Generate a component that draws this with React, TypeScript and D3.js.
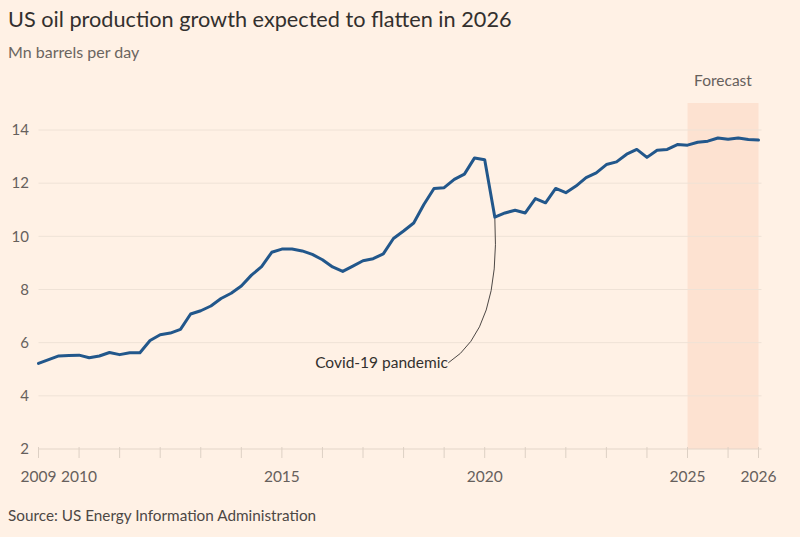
import React from "react";
import * as d3 from "d3";

const startYear = 2009;
const endYear = 2026;
const forecastStart = 2025;
const yTicks = [2, 4, 6, 8, 10, 12, 14];
const xLabelYears = [2009, 2010, 2015, 2020, 2025];
const lastLabel = "2026";

// Quarterly US crude oil production, Mn barrels per day, 2009 Q1 – 2026 Q4
const production = [
  5.22, 5.36, 5.5, 5.52,
  5.53, 5.43, 5.5, 5.63,
  5.55, 5.62, 5.62, 6.08,
  6.3, 6.36, 6.5, 7.08,
  7.2, 7.38, 7.66, 7.86,
  8.13, 8.54, 8.86, 9.4,
  9.52, 9.52, 9.45, 9.32,
  9.12, 8.85, 8.68, 8.88,
  9.08, 9.16, 9.34, 9.92,
  10.2, 10.5, 11.2, 11.8,
  11.83, 12.14, 12.34, 12.95,
  12.88, 10.72, 10.88, 10.98,
  10.88, 11.42, 11.26, 11.8,
  11.64, 11.89, 12.21, 12.39,
  12.7, 12.8, 13.09, 13.27,
  12.97, 13.24, 13.27, 13.45,
  13.43, 13.54, 13.58, 13.7,
  13.65, 13.7, 13.64, 13.62,
];

const title = "US oil production growth expected to flatten in 2026";
const subtitle = "Mn barrels per day";
const source = "Source: US Energy Information Administration";
const annotation = "Covid-19 pandemic";
const forecastLabel = "Forecast";

const W = 800;
const H = 537;
const FONT = "Lato, 'Open Sans', sans-serif";

export default function App() {
  const data = production.map((v, i) => ({ t: startYear + i / 4, v }));
  const tEnd = data[data.length - 1].t;

  const x = d3.scaleLinear().domain([startYear, tEnd]).range([38.5, 758.5]);
  const y = d3.scaleLinear().domain([2, 14]).range([449, 130]);

  const line = d3
    .line<{ t: number; v: number }>()
    .x((d) => x(d.t))
    .y((d) => y(d.v))
    .curve(d3.curveLinear);

  const yearTicks = d3.range(startYear, endYear + 1).concat([tEnd]);

  // covid annotation anchored on the 2020 Q2 point
  const covid = data.find((d) => Math.abs(d.t - 2020.25) < 1e-6)!;
  const ax = x(covid.t);
  const ay = y(covid.v);
  const tx = x(2015.82);
  const ty = y(5.05);
  const textEndX = x(2019.1);
  const curvePath = `M${textEndX},${ty - 5} Q${x(2020.4)},${y(6.5)} ${ax},${ay + 1}`;

  return (
    <svg
      width={W}
      height={H}
      style={{ position: "absolute", left: 0, top: 0, background: "#fff1e5" }}
    >
      <rect x={0} y={0} width={W} height={H} fill="#fff1e5" />
      <text x={8} y={27} fontFamily={FONT} fontSize={21.7} fill="#33302e">
        {title}
      </text>
      <text x={8} y={58} fontFamily={FONT} fontSize={16} fill="#6b6560">
        {subtitle}
      </text>

      {/* forecast band */}
      <rect
        x={x(forecastStart)}
        y={103}
        width={x(tEnd) - x(forecastStart)}
        height={y(2) - 103}
        fill="#fde2d1"
      />
      <text
        x={(x(forecastStart) + x(tEnd)) / 2}
        y={86}
        textAnchor="middle"
        fontFamily={FONT}
        fontSize={15.5}
        fill="#66605c"
      >
        {forecastLabel}
      </text>

      {/* gridlines */}
      {yTicks.map((t) => (
        <g key={t}>
          <line
            x1={x(startYear)}
            x2={x(tEnd) + 3}
            y1={y(t)}
            y2={y(t)}
            stroke={t === 2 ? "#e3d5c8" : "#efe2d6"}
            strokeWidth={1}
          />
          <text
            x={29}
            y={y(t)}
            dy="0.35em"
            textAnchor="end"
            fontFamily={FONT}
            fontSize={15}
            fill="#66605c"
          >
            {t}
          </text>
        </g>
      ))}

      {/* x ticks */}
      {yearTicks.map((t, i) => (
        <line
          key={i}
          x1={x(t)}
          x2={x(t)}
          y1={y(2) - 2}
          y2={y(2) + 9}
          stroke="#ddd0c4"
          strokeWidth={1}
        />
      ))}
      {xLabelYears.map((yr) => (
        <text
          key={yr}
          x={x(yr)}
          y={482}
          textAnchor="middle"
          fontFamily={FONT}
          fontSize={15.5}
          fill="#66605c"
        >
          {yr}
        </text>
      ))}
      <text
        x={x(tEnd)}
        y={482}
        textAnchor="middle"
        fontFamily={FONT}
        fontSize={15.5}
        fill="#66605c"
      >
        {lastLabel}
      </text>

      {/* annotation */}
      <path d={curvePath} fill="none" stroke="#4d4845" strokeWidth={1} />
      <text x={tx} y={ty} fontFamily={FONT} fontSize={15.5} fill="#33302e">
        {annotation}
      </text>

      {/* series line */}
      <path
        d={line(data) || ""}
        fill="none"
        stroke="#22578b"
        strokeWidth={3}
        strokeLinejoin="round"
        strokeLinecap="round"
      />

      <text x={8} y={521} fontFamily={FONT} fontSize={15.3} fill="#4d4845">
        {source}
      </text>
    </svg>
  );
}
